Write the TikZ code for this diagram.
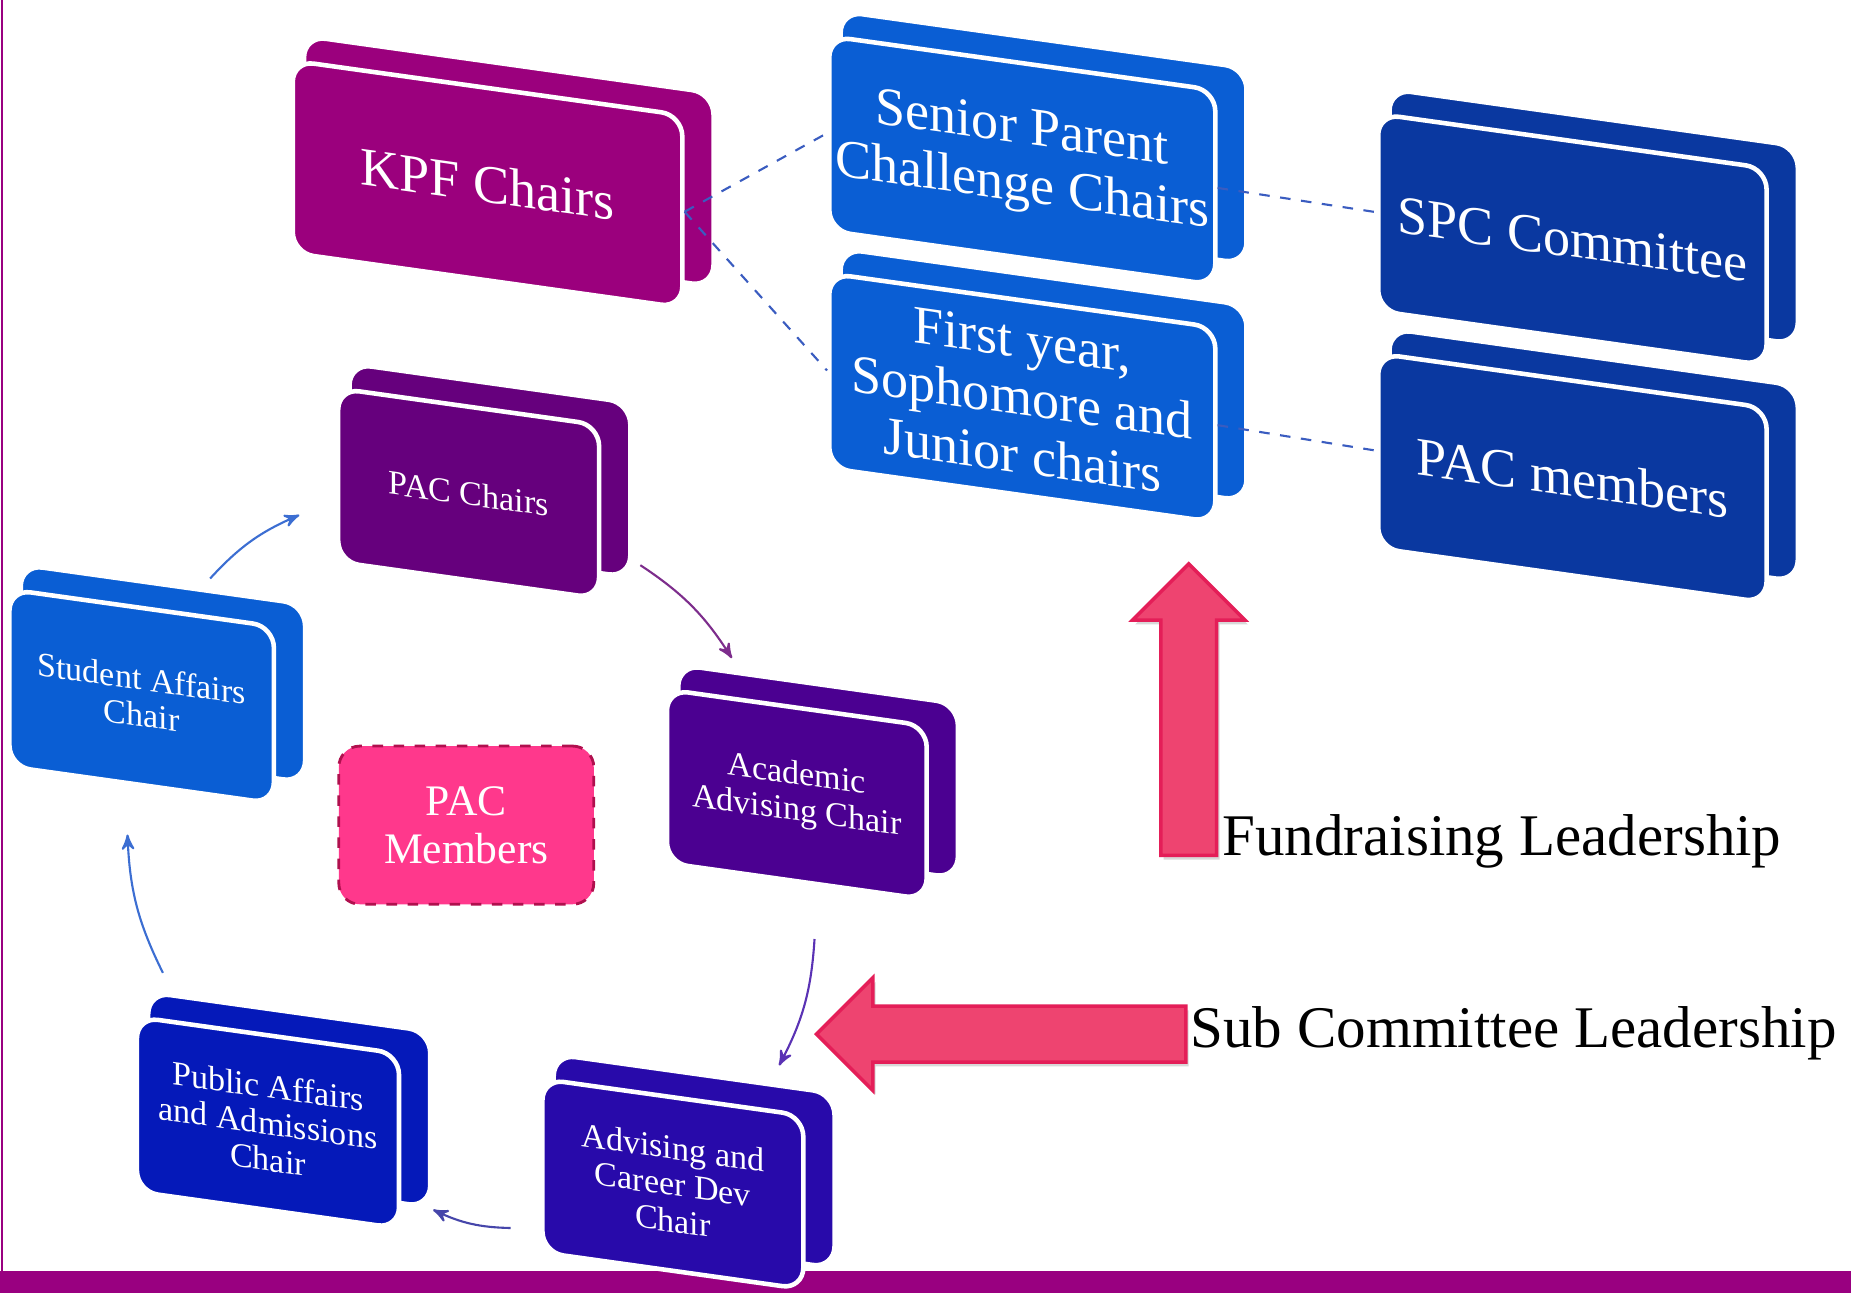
\documentclass[tikz,border=0pt]{standalone}
\usepackage{fontspec}
\setmainfont{Liberation Serif}
\usetikzlibrary{arrows,shapes.arrows,shadows}

\definecolor{kpfcol}{HTML}{9B007D}
\definecolor{brightblue}{HTML}{0A5ED4}
\definecolor{navyblue}{HTML}{0A38A0}
\definecolor{pacpurple}{HTML}{66007D}
\definecolor{indigocol}{HTML}{4B0091}
\definecolor{royalcol}{HTML}{0519B9}
\definecolor{violetcol}{HTML}{280AAA}
\definecolor{barcol}{HTML}{990080}
\definecolor{pinkfill}{HTML}{FF388C}
\definecolor{pinkedge}{HTML}{B0104E}
\definecolor{arrowfill}{HTML}{EE4470}
\definecolor{arrowedge}{HTML}{E41E58}
\definecolor{dashcol}{HTML}{3A5CC0}
\definecolor{arrblue}{HTML}{3C6ED2}
\definecolor{arrpurple}{HTML}{7D2D8C}
\definecolor{arrindigo}{HTML}{5A32B4}
\definecolor{arrnavy}{HTML}{4646AA}

\newcommand{\px}{0.011805cm}
% slanted 3d box: name, centre, width, height, colour, font size, text
\newcommand{\chairbox}[7]{%
  \begin{scope}[shift={#2},yslant=-0.14]
    \fill[#5,draw=white,line width=1pt,rounded corners=6pt] (-#3/2+10,-#4/2-22) rectangle (#3/2+26,#4/2-22);
    \node[front node,fill=#5,minimum width=#3*\px,minimum height=#4*\px,font=\fontsize{#6}{#6}\linespread{1.07}\selectfont] (#1) at (0,0) {#7};
  \end{scope}}

\begin{document}
\begin{tikzpicture}[x=\px,y=-\px,>=stealth',
    front node/.style={rectangle,rounded corners=6pt,draw=white,line width=1.3pt,text=white,align=center,inner sep=0pt,transform shape},
    pink box/.style={rectangle,rounded corners=6pt,fill=pinkfill,draw=pinkedge,dashed,line width=0.8pt,minimum width=216*\px,minimum height=134*\px,text=white,align=center,font=\fontsize{12.4}{13.6}\selectfont},
    dash line/.style={-,draw=dashcol,dashed,line width=0.6pt},
    cycle arrow/.style={->,line width=0.6pt,bend left=12},
    big arrow/.style={single arrow,fill=arrowfill,draw=arrowedge,line width=1pt,minimum width=1.098cm,single arrow head extend=0.283cm,drop shadow={opacity=0.3,shadow xshift=0.8pt,shadow yshift=-1.2pt}},
    lead label/.style={font=\fontsize{16.8}{16.8}\selectfont,anchor=base west,inner sep=0pt}]

  \useasboundingbox (0,0) rectangle (1568,1095);
  \fill[white] (0,0) rectangle (1568,1095);
  \fill[barcol] (0,1077) rectangle (1568,1095);
  \draw[barcol,line width=0.6pt] (2,0) -- (2,1077);

  \chairbox{kpf}{(413,156)}{330}{163}{kpfcol}{15.4}{KPF Chairs}
  \chairbox{senior}{(866,136)}{327}{165}{brightblue}{15.4}{Senior Parent\\Challenge Chairs}
  \chairbox{first}{(866,337)}{327}{165}{brightblue}{15.4}{First year,\\Sophomore and\\Junior chairs}
  \chairbox{spc}{(1332,203)}{329}{167}{navyblue}{15.4}{SPC Committee}
  \chairbox{pacm}{(1332,405)}{329}{165}{navyblue}{15.4}{PAC members}
  \chairbox{pacc}{(397,418)}{221}{147}{pacpurple}{9.7}{PAC Chairs}
  \chairbox{sac}{(120,590)}{224}{150}{brightblue}{9.7}{Student Affairs\\Chair}
  \chairbox{acad}{(675,673)}{220}{147}{indigocol}{9.7}{Academic\\Advising Chair}
  \chairbox{pub}{(227,951)}{222}{148}{royalcol}{9.7}{Public Affairs\\and Admissions\\Chair}
  \chairbox{adv}{(570,1003)}{221}{147}{violetcol}{9.7}{Advising and\\Career Dev\\Chair}

  \node[pink box] (pacmem) at (395,699) {PAC\\Members};

  \path[dash line]
    (kpf.east) edge (senior.west)
    (kpf.east) edge (first.west)
    (senior.east) edge (spc.west)
    (first.east) edge (pacm.west);

  \path
    ([shift={(58,-23)}]sac.north) edge[cycle arrow,arrblue] ([shift={(-31,34)}]pacc.west)
    ([shift={(33,45)}]pacc.east) edge[cycle arrow,arrpurple] ([shift={(-55,-40)}]acad.north)
    ([shift={(15,47)}]acad.south) edge[cycle arrow,arrindigo] ([shift={(90,-25)}]adv.north)
    ([shift={(-25,53)}]adv.west) edge[cycle arrow,arrnavy] ([shift={(27,58)}]pub.east)
    ([shift={(-89,-51)}]pub.north) edge[cycle arrow,arrblue] ([shift={(-12,40)}]sac.south);

  \node[big arrow,shape border rotate=90,minimum height=2.916cm,inner xsep=0.262cm,inner ysep=0pt] (fundarrow) at (1007,613) {};
  \node[big arrow,shape border rotate=180,minimum height=3.695cm,inner xsep=0pt,inner ysep=0.262cm] (subarrow) at (860,876) {};

  \node[lead label] (fundlbl) at (1035,725) {Fundraising Leadership};
  \node[lead label] (sublbl) at (1008,887) {Sub Committee Leadership};

\end{tikzpicture}
\end{document}
